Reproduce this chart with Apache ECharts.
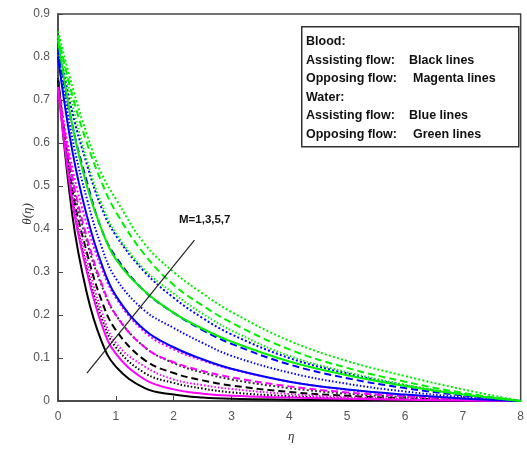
<!DOCTYPE html>
<html><head><meta charset="utf-8">
<script src="https://cdn.jsdelivr.net/npm/echarts@6/dist/echarts.min.js"></script>
<style>html,body{margin:0;padding:0;background:#fff}#c{width:527px;height:453px}</style>
</head><body><div id="c"></div>
<script>
var eta = [0, 0.25, 0.5, 0.75, 1, 1.5, 2, 2.5, 3, 4, 5, 6, 7, 8];
var xTicks = [0,1,2,3,4,5,6,7,8];
var yTicks = [0,0.1,0.2,0.3,0.4,0.5,0.6,0.7,0.8,0.9];

var black1 = [0.75,0.43,0.25,0.14,0.08,0.03,0.015,0.008,0.005,0.003,0.002,0.001,0.0005,0];
var black3 = [0.75,0.47,0.31,0.195,0.125,0.065,0.042,0.029,0.02,0.011,0.006,0.003,0.0015,0];
var black5 = [0.75,0.49,0.345,0.235,0.165,0.095,0.065,0.048,0.036,0.021,0.012,0.006,0.003,0];
var black7 = [0.75,0.51,0.37,0.27,0.20,0.125,0.088,0.066,0.05,0.03,0.017,0.009,0.004,0];

var magenta1 = [0.73,0.46,0.30,0.18,0.11,0.05,0.027,0.017,0.012,0.008,0.005,0.003,0.001,0];
var magenta3 = [0.73,0.48,0.33,0.21,0.135,0.08,0.05,0.037,0.028,0.016,0.009,0.005,0.002,0];
var magenta5 = [0.73,0.52,0.38,0.275,0.20,0.125,0.09,0.07,0.055,0.034,0.02,0.011,0.005,0];
var magenta7 = [0.73,0.54,0.41,0.31,0.24,0.16,0.12,0.094,0.074,0.045,0.026,0.014,0.006,0];

var blue1 = [0.80,0.58,0.43,0.32,0.245,0.165,0.125,0.097,0.075,0.045,0.027,0.015,0.006,0];
var blue3 = [0.81,0.61,0.47,0.36,0.285,0.21,0.17,0.135,0.105,0.066,0.04,0.022,0.009,0];
var blue5 = [0.82,0.64,0.51,0.40,0.335,0.255,0.205,0.165,0.133,0.085,0.053,0.03,0.013,0];
var blue7 = [0.83,0.67,0.55,0.45,0.385,0.30,0.24,0.193,0.155,0.10,0.064,0.036,0.015,0];

var green1 = [0.84,0.64,0.50,0.40,0.33,0.255,0.205,0.168,0.138,0.092,0.06,0.035,0.015,0];
var green3 = [0.85,0.69,0.56,0.46,0.39,0.305,0.25,0.203,0.164,0.105,0.067,0.038,0.016,0];
var green5 = [0.85,0.71,0.60,0.51,0.44,0.34,0.27,0.222,0.182,0.12,0.077,0.045,0.019,0];
var green7 = [0.86,0.73,0.62,0.53,0.47,0.365,0.30,0.25,0.207,0.14,0.093,0.058,0.027,0];

var arrowFrom = [0.5, 0.065];
var arrowTo = [2.36, 0.374];

function pts(v){ return eta.map(function(e,i){ return [e, v[i]]; }); }
var styles = {1:'solid', 3:[1.5,2], 5:[7,4], 7:[2,2.2]};
function mk(name, v, color, m){
  return {name:name, type:'line', data:pts(v), smooth:0.4, showSymbol:false, silent:true,
    lineStyle:{color:color, width:2, type:styles[m]}};
}
var series = [
  mk('b1',black1,'#000000',1), mk('b3',black3,'#000000',3), mk('b5',black5,'#000000',5), mk('b7',black7,'#333333',7),
  mk('m1',magenta1,'#ff00ff',1), mk('m3',magenta3,'#ff00ff',3), mk('m5',magenta5,'#ff00ff',5), mk('m7',magenta7,'#ff00ff',7),
  mk('u1',blue1,'#0000ff',1), mk('u3',blue3,'#0000ff',3), mk('u5',blue5,'#0000ff',5), mk('u7',blue7,'#0000ff',7),
  mk('g1',green1,'#00f000',1), mk('g3',green3,'#00f000',3), mk('g5',green5,'#00f000',5), mk('g7',green7,'#00f000',7)
];
series.push({type:'line', data:[], silent:true,
  markLine:{silent:true, symbol:['none','arrow'], symbolSize:[0,12], animation:false,
    lineStyle:{color:'#222', width:1.2, type:'solid'}, label:{show:false},
    data:[[{coord:arrowFrom},{coord:arrowTo}]]}});

var F = 'bold 12.5px Liberation Sans, Arial';
var chart = echarts.init(document.getElementById('c'), null, {renderer:'canvas'});
chart.setOption({
  animation:false,
  grid:{left:58, right:3, top:14, bottom:52, show:true, borderColor:'#444', borderWidth:1.5},
  xAxis:{type:'value', min:0, max:8, interval:1,
    axisLine:{show:true, onZero:false, lineStyle:{color:'#444', width:1.5}},
    axisTick:{show:true, inside:true, length:5, lineStyle:{color:'#444'}},
    axisLabel:{color:'#555', fontSize:12, fontFamily:'Liberation Sans, Arial', margin:10,
      formatter:function(v){ return xTicks.indexOf(v)>=0 ? String(v) : ''; }},
    splitLine:{show:false}},
  yAxis:{type:'value', min:0, max:0.9, interval:0.1,
    axisLine:{show:true, onZero:false, lineStyle:{color:'#444', width:1.5}},
    axisTick:{show:true, inside:true, length:5, lineStyle:{color:'#444'}},
    axisLabel:{color:'#555', fontSize:12, fontFamily:'Liberation Sans, Arial', margin:8,
      formatter:function(v){ var r=Math.round(v*10)/10; return r===0?'0':String(r); }},
    splitLine:{show:false}},
  series:series,
  graphic:[
    {type:'rect', left:301, top:26, shape:{width:217, height:120}, style:{fill:'#fff', stroke:'#333', lineWidth:1.5}, z:100},
    {type:'text', left:306, top:35, style:{text:'Blood:', font:F, fill:'#111'}, z:101},
    {type:'text', left:306, top:54, style:{text:'Assisting flow:', font:F, fill:'#111'}, z:101},
    {type:'text', left:409, top:54, style:{text:'Black lines', font:F, fill:'#111'}, z:101},
    {type:'text', left:306, top:72, style:{text:'Opposing flow:', font:F, fill:'#111'}, z:101},
    {type:'text', left:413, top:72, style:{text:'Magenta lines', font:F, fill:'#111'}, z:101},
    {type:'text', left:306, top:91, style:{text:'Water:', font:F, fill:'#111'}, z:101},
    {type:'text', left:306, top:109, style:{text:'Assisting flow:', font:F, fill:'#111'}, z:101},
    {type:'text', left:409, top:109, style:{text:'Blue lines', font:F, fill:'#111'}, z:101},
    {type:'text', left:306, top:128, style:{text:'Opposing flow:', font:F, fill:'#111'}, z:101},
    {type:'text', left:413, top:128, style:{text:'Green lines', font:F, fill:'#111'}, z:101},
    {type:'text', left:179, top:214, style:{text:'M=1,3,5,7', font:'bold 11.5px Liberation Sans, Arial', fill:'#111'}, z:101},
    {type:'text', left:288, top:430, style:{text:'η', font:'italic 13px Liberation Serif, Times New Roman', fill:'#333'}, z:101},
    {type:'text', x:28, y:214, rotation:Math.PI/2, style:{text:'θ(η)', font:'italic 13px Liberation Serif, Times New Roman', fill:'#333', align:'center', verticalAlign:'middle'}, z:101}
  ]
});
</script></body></html>
